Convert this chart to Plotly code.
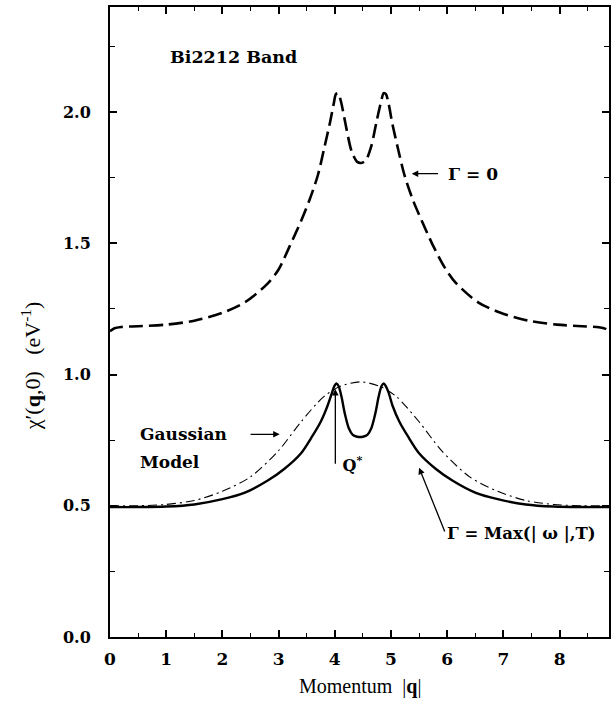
import plotly.graph_objects as go

# ---- data ----
q_gamma0 = [0.00, 0.08, 0.20, 0.50, 1.00, 1.50, 2.00, 2.40, 2.80, 3.00, 3.20, 3.40, 3.55, 3.70,
            3.82, 3.92, 3.98, 4.02, 4.06, 4.11, 4.20, 4.30, 4.40, 4.47, 4.55, 4.65, 4.74, 4.83,
            4.87, 4.91, 4.96, 5.02, 5.12, 5.24, 5.39, 5.55, 5.74, 5.95, 6.15, 6.55, 6.95, 7.45,
            7.95, 8.40, 8.70, 8.82, 8.88]
chi_gamma0 = [1.165, 1.176, 1.181, 1.184, 1.190, 1.205, 1.235, 1.275, 1.345, 1.400, 1.490, 1.585,
              1.665, 1.760, 1.870, 1.965, 2.030, 2.068, 2.072, 2.040, 1.945, 1.850, 1.810, 1.806,
              1.815, 1.870, 1.960, 2.045, 2.072, 2.068, 2.030, 1.960, 1.865, 1.760, 1.665, 1.585,
              1.495, 1.410, 1.350, 1.275, 1.235, 1.205, 1.190, 1.184, 1.180, 1.174, 1.165]

q_gmax = [0.00, 0.50, 1.00, 1.50, 2.00, 2.40, 2.80, 3.10, 3.40, 3.60, 3.75, 3.87, 3.95, 3.99,
          4.03, 4.07, 4.12, 4.18, 4.25, 4.32, 4.40, 4.45, 4.50, 4.58, 4.65, 4.72, 4.78, 4.83,
          4.87, 4.91, 4.96, 5.03, 5.15, 5.30, 5.50, 5.80, 6.10, 6.50, 6.90, 7.40, 7.90, 8.40,
          8.88]
chi_gmax = [0.495, 0.495, 0.497, 0.505, 0.525, 0.550, 0.595, 0.640, 0.700, 0.765, 0.820, 0.880,
            0.930, 0.955, 0.966, 0.955, 0.915, 0.850, 0.795, 0.770, 0.763, 0.762, 0.763, 0.770,
            0.795, 0.850, 0.915, 0.955, 0.966, 0.955, 0.930, 0.880, 0.820, 0.765, 0.700, 0.640,
            0.595, 0.550, 0.525, 0.505, 0.497, 0.495, 0.495]

q_gauss = [0.00, 0.50, 1.00, 1.50, 2.00, 2.50, 3.00, 3.40, 3.80, 4.10, 4.45, 4.80, 5.10, 5.50,
           5.90, 6.40, 6.90, 7.40, 7.90, 8.40, 8.88]
chi_gauss = [0.500, 0.500, 0.505, 0.520, 0.555, 0.610, 0.710, 0.820, 0.915, 0.955, 0.972, 0.955,
             0.915, 0.820, 0.710, 0.610, 0.555, 0.520, 0.505, 0.500, 0.500]

x_ticks = [0, 1, 2, 3, 4, 5, 6, 7, 8]
y_ticks = [0.0, 0.5, 1.0, 1.5, 2.0]
y_tick_text = ["0.0", "0.5", "1.0", "1.5", "2.0"]

SERIF = "DejaVu Serif"
TXT = "Liberation Serif"
QVEC = "<b>q</b>"

fig = go.Figure()
fig.add_trace(go.Scatter(x=q_gamma0, y=chi_gamma0, mode="lines",
                         line=dict(color="black", width=2.6, dash="14px,6px", shape="spline", smoothing=0.8),
                         showlegend=False))
fig.add_trace(go.Scatter(x=q_gauss, y=chi_gauss, mode="lines",
                         line=dict(color="black", width=1.1, dash="9px,4px,2px,4px", shape="spline", smoothing=0.8),
                         showlegend=False))
fig.add_trace(go.Scatter(x=q_gmax, y=chi_gmax, mode="lines",
                         line=dict(color="black", width=2.4, shape="spline", smoothing=0.8),
                         showlegend=False))

def bold(size):
    return dict(family=SERIF, size=size, color="black", weight="bold")

arrow = dict(showarrow=True, arrowhead=2, arrowsize=1, arrowwidth=1.3, arrowcolor="black",
             xref="x", yref="y", axref="x", ayref="y")

ann = []
ann.append(dict(x=1.03, y=2.21, xref="x", yref="y", text="Bi2212 Band", showarrow=False,
                xanchor="left", yanchor="middle", font=bold(17.5)))
# Gamma = 0
ann.append(dict(x=5.37, y=1.765, ax=5.98, ay=1.765, text="Γ = 0",
                xanchor="left", yanchor="middle", font=bold(17), startstandoff=8, **arrow))
# Gaussian model
ann.append(dict(x=3.02, y=0.772, ax=0.50, ay=0.772, text="Gaussian",
                xanchor="left", yanchor="middle", font=bold(17), startstandoff=22, **arrow))
ann.append(dict(x=0.50, y=0.668, xref="x", yref="y", text="Model", showarrow=False,
                xanchor="left", yanchor="middle", font=bold(17)))
# Q*
ann.append(dict(x=4.01, y=0.945, ax=4.01, ay=0.66, text=" Q<sup>*</sup>",
                xanchor="left", yanchor="middle", font=bold(16), startstandoff=0, **arrow))
# Gamma = Max
ann.append(dict(x=5.50, y=0.645, ax=5.97, ay=0.395, text="Γ = Max(| ω |,T)",
                xanchor="left", yanchor="middle", font=bold(16.5), startstandoff=2, **arrow))
# axis titles
ann.append(dict(x=0.5, y=-0.078, xref="paper", yref="paper", text="Momentum  |" + QVEC + "|",
                showarrow=False, xanchor="center", yanchor="middle",
                font=dict(family=TXT, size=20, color="black")))
ann.append(dict(x=-0.158, y=0.43, xref="paper", yref="paper", textangle=-90,
                text="χ′(" + QVEC + ",0)   (eV<sup>-1</sup>)", showarrow=False,
                xanchor="center", yanchor="middle", font=dict(family=TXT, size=22, color="black")))

axis_common = dict(showline=True, linecolor="black", linewidth=2, mirror="allticks",
                   ticks="inside", ticklen=7, tickwidth=1.5, tickcolor="black",
                   showgrid=False, zeroline=False)

fig.update_layout(
    width=616, height=704,
    margin=dict(l=110, r=5, t=5, b=67),
    plot_bgcolor="white", paper_bgcolor="white",
    xaxis=dict(range=[0, 8.88], tickvals=x_ticks, ticktext=[str(v) for v in x_ticks],
               tickfont=dict(family=SERIF, size=17, color="black", weight="bold"),
               ticklabelstandoff=6,
               minor=dict(dtick=0.5, tick0=0, ticks="inside", ticklen=4, tickwidth=1.2, tickcolor="black"),
               **axis_common),
    yaxis=dict(range=[0, 2.40], tickvals=y_ticks, ticktext=y_tick_text,
               tickfont=dict(family=SERIF, size=16, color="black", weight="bold"),
               ticklabelstandoff=14,
               minor=dict(dtick=0.25, tick0=0, ticks="inside", ticklen=5, tickwidth=1.2, tickcolor="black"),
               **axis_common),
    annotations=ann,
)

fig.write_html("out.html")
